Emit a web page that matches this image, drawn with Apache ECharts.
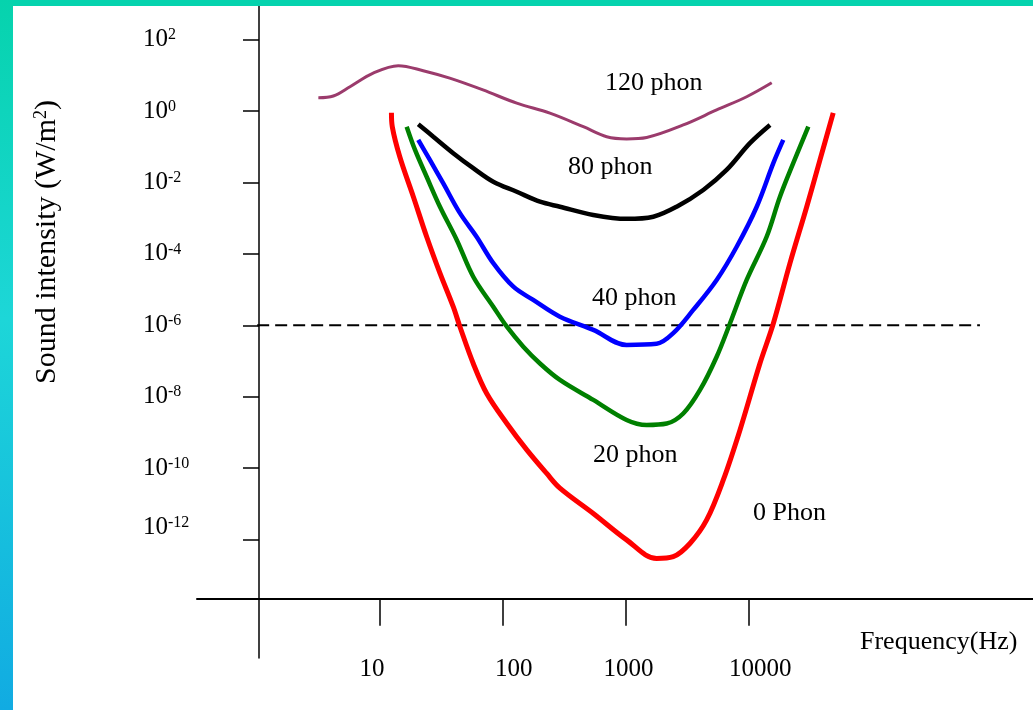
<!DOCTYPE html>
<html><head><meta charset="utf-8">
<script src="https://cdn.jsdelivr.net/npm/echarts@6/dist/echarts.min.js"></script>
<style>html,body{margin:0;padding:0;background:#fff}#c{width:1033px;height:710px}</style>
</head><body><div id="c"></div>
<script>
// ---- data (frequency in Hz, intensity as log10 of W/m^2) ----
const xTickValues = [10, 100, 1000, 10000];
const xTickLabels = ['10', '100', '1000', '10000'];
const yTickExponents = [2, 0, -2, -4, -6, -8, -10, -12];

const phon120Freq = [3.15, 4.17, 5.7, 8.8, 14.1, 22.5, 37, 69, 130, 242, 453, 702, 1020, 1486, 2950, 5520, 9690, 15500];
const phon120LogI = [0.37, 0.42, 0.68, 1.06, 1.27, 1.13, 0.92, 0.59, 0.22, -0.06, -0.44, -0.72, -0.78, -0.74, -0.39, 0.03, 0.40, 0.79];

const phon80Freq = [20.5, 27.2, 39.5, 57.5, 83.7, 130, 201, 292, 546, 1020, 1682, 2606, 4295, 6650, 10300, 15000];
const phon80LogI = [-0.37, -0.72, -1.18, -1.60, -1.98, -2.26, -2.54, -2.68, -2.91, -3.02, -2.96, -2.68, -2.21, -1.65, -0.90, -0.39];

const phon40Freq = [20.5, 25.5, 32.7, 44.8, 61.2, 83.7, 122, 177, 292, 546, 1020, 1790, 2445, 3557, 5520, 8035, 11700, 15970, 19240];
const phon40LogI = [-0.81, -1.37, -2.02, -2.86, -3.52, -4.26, -4.92, -5.29, -5.76, -6.13, -6.55, -6.52, -6.22, -5.57, -4.73, -3.80, -2.68, -1.46, -0.81];

const phon20Freq = [16.5, 19.3, 24, 30.8, 42.2, 57.5, 83.7, 108, 147, 201, 292, 546, 1020, 1486, 2163, 2950, 4040, 5520, 7080, 9690, 14090, 18080, 23200, 30780];
const phon20LogI = [-0.44, -1.09, -1.84, -2.68, -3.61, -4.64, -5.48, -6.04, -6.60, -7.07, -7.53, -8.09, -8.65, -8.79, -8.75, -8.47, -7.81, -6.88, -5.95, -4.73, -3.52, -2.40, -1.46, -0.44];

const phon0Freq = [12.4, 12.6, 14.5, 18.7, 24, 30.8, 39.5, 44.8, 57.5, 74, 108, 157, 228, 292, 546, 1020, 1790, 2445, 3342, 4575, 6250, 8550, 12420, 15970, 21830, 29880, 38300, 49100];
const phon0LogI = [-0.05, -0.44, -1.28, -2.40, -3.52, -4.54, -5.48, -6.04, -7.07, -7.91, -8.75, -9.49, -10.15, -10.56, -11.27, -12.01, -12.53, -12.48, -12.11, -11.45, -10.33, -8.93, -7.07, -5.95, -4.26, -2.68, -1.37, -0.05];

const thresholdFreq = [1, 769000];
const thresholdLogI = [-6, -6];

const curveNames = ['120 phon', '80 phon', '40 phon', '20 phon', '0 Phon'];

// ---- build ----
const toPairs = (f, l) => f.map((v, i) => [v, Math.pow(10, l[i])]);
const FONT = '"Liberation Serif", "Times New Roman", serif';

const xRich = {
  x1: {fontFamily: FONT, fontSize: 25, color: '#000', padding: [0, 16, 0, 0]},
  x2: {fontFamily: FONT, fontSize: 25, color: '#000', padding: [0, 0, 0, 22]},
  x3: {fontFamily: FONT, fontSize: 25, color: '#000', padding: [0, 0, 0, 6]},
  x4: {fontFamily: FONT, fontSize: 25, color: '#000', padding: [0, 0, 0, 24]}
};

const chart = echarts.init(document.getElementById('c'));
const lineSeries = (name, f, l, color, width) => ({
  name, type: 'line', data: toPairs(f, l), symbol: 'none', smooth: 0.35,
  lineStyle: {color, width}, z: 3
});

const textStyleBase = {fill: '#000', fontFamily: FONT, fontSize: 26};

chart.setOption({
  animation: false,
  backgroundColor: '#ffffff',
  grid: {left: 197, right: 0, top: 6, bottom: 52},
  xAxis: {
    type: 'log', logBase: 10,
    min: Math.pow(10, -0.490), max: Math.pow(10, 6.318),
    offset: -59.3,
    axisLine: {onZero: false, lineStyle: {color: '#000', width: 2}},
    axisTick: {customValues: xTickValues, length: 27, lineStyle: {color: '#000', width: 1.5}},
    axisLabel: {
      customValues: xTickValues, margin: 58,
      formatter: v => {
        const e = Math.round(Math.log10(v));
        return '{x' + e + '|' + xTickLabels[e - 1] + '}';
      },
      rich: xRich
    },
    splitLine: {show: false}, minorTick: {show: false}
  },
  yAxis: {
    type: 'log', logBase: 10,
    min: Math.pow(10, -15.317), max: Math.pow(10, 2.941),
    offset: -62,
    axisLine: {onZero: false, lineStyle: {color: '#000', width: 1.5}},
    axisTick: {customValues: yTickExponents.map(e => Math.pow(10, e)), length: 16, lineStyle: {color: '#000', width: 1.5}},
    axisLabel: {
      customValues: yTickExponents.map(e => Math.pow(10, e)),
      margin: 116, align: 'left',
      formatter: v => {
        const e = Math.round(Math.log10(v));
        const s = '{b|10}{s|' + (e === 0 ? '0' : String(e)) + '}';
        return e === -12 ? s + '\n{g|}' : s;
      },
      rich: {
        b: {fontFamily: FONT, fontSize: 25, color: '#000', lineHeight: 25},
        s: {fontFamily: FONT, fontSize: 16, color: '#000', lineHeight: 16, verticalAlign: 'top'},
        g: {lineHeight: 24, fontSize: 1}
      }
    },
    splitLine: {show: false}, minorTick: {show: false}
  },
  series: [
    lineSeries(curveNames[0], phon120Freq, phon120LogI, '#9b3b6c', 3),
    lineSeries(curveNames[1], phon80Freq, phon80LogI, '#000000', 4.5),
    lineSeries(curveNames[2], phon40Freq, phon40LogI, '#0000ff', 4.5),
    lineSeries(curveNames[3], phon20Freq, phon20LogI, '#008000', 4.5),
    lineSeries(curveNames[4], phon0Freq, phon0LogI, '#ff0000', 5),
    {
      name: 'threshold', type: 'line', data: toPairs(thresholdFreq, thresholdLogI),
      symbol: 'none', lineStyle: {color: '#000', width: 2, type: [12, 6]}, z: 2
    }
  ],
  graphic: [
    {type: 'rect', left: 0, top: 0, z: 100, shape: {width: 1033, height: 6}, style: {fill: '#05d3ae'}},
    {type: 'rect', left: 0, top: 0, z: 100, shape: {width: 13, height: 710},
      style: {fill: new echarts.graphic.LinearGradient(0, 0, 0, 1, [
        {offset: 0, color: '#06d3ad'}, {offset: 0.45, color: '#1dd6d8'}, {offset: 1, color: '#11abe2'}])}},
    {type: 'text', x: 47, y: 242, rotation: Math.PI / 2,
      style: {text: 'Sound intensity (W/m{s|2})', fill: '#000', font: '30px ' + FONT,
        align: 'center', verticalAlign: 'middle',
        rich: {s: {fontFamily: FONT, fontSize: 18, verticalAlign: 'top', lineHeight: 19}}}},
    {type: 'text', x: 860, y: 642, style: Object.assign({text: 'Frequency(Hz)', verticalAlign: 'middle'}, textStyleBase)},
    {type: 'text', x: 605, y: 83, style: Object.assign({text: curveNames[0], verticalAlign: 'middle'}, textStyleBase)},
    {type: 'text', x: 568, y: 167, style: Object.assign({text: curveNames[1], verticalAlign: 'middle'}, textStyleBase)},
    {type: 'text', x: 592, y: 298, style: Object.assign({text: curveNames[2], verticalAlign: 'middle'}, textStyleBase)},
    {type: 'text', x: 593, y: 455, style: Object.assign({text: curveNames[3], verticalAlign: 'middle'}, textStyleBase)},
    {type: 'text', x: 753, y: 513, style: Object.assign({text: curveNames[4], verticalAlign: 'middle'}, textStyleBase)}
  ]
});
</script></body></html>
